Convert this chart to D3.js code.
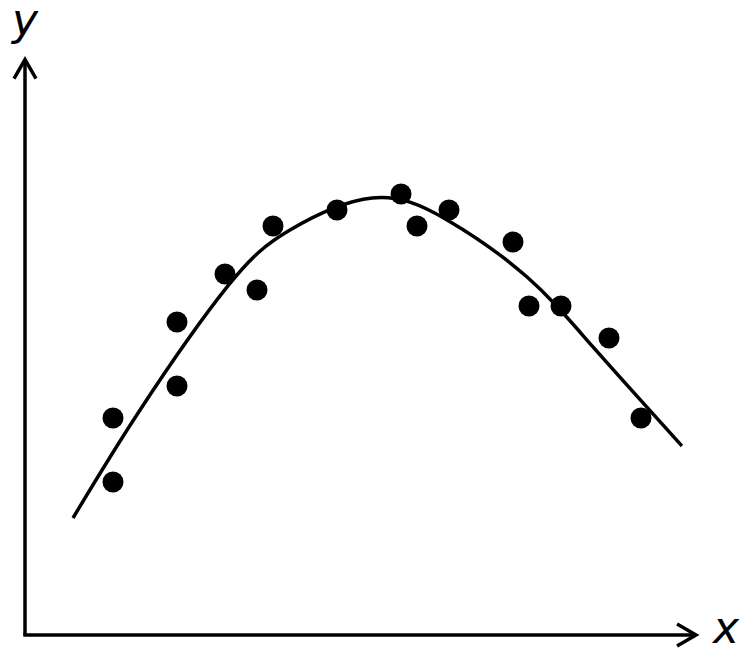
<!DOCTYPE html>
<html>
<head>
<meta charset="utf-8">
<script src="https://cdn.jsdelivr.net/npm/d3@7"></script>
<style>
  body { margin: 0; background: #fff; }
</style>
</head>
<body>
<script>
// scatter points (grid units)
let pointX = [6, 6, 10, 10, 13, 15, 16, 20, 24, 25, 27, 31, 32, 34, 37, 39];
let pointY = [14, 10, 20, 16, 23, 22, 26, 27, 28, 26, 27, 25, 21, 21, 19, 14];

// fitted curve
let curveX = [3.5, 7.69, 13.13, 17.06, 22.19, 26.88, 31.88, 36.0, 41.56];
let curveY = [7.75, 14.5, 22.19, 25.75, 27.75, 26.38, 22.81, 18.44, 12.25];

// axis extents
let axisX = [0.5, 42.44];
let axisY = [0.44, 36.4];

let width = 751, height = 649;

let svg = d3.select("body").append("svg")
  .attr("width", width)
  .attr("height", height);

let x = d3.scaleLinear().domain([0, 42]).range([17, 689]);
let y = d3.scaleLinear().domain([0, 40]).range([642, 2]);

let ink = "#000";
let axisW = 3.5;

// y axis
svg.append("line")
  .attr("x1", x(axisX[0])).attr("y1", y(axisY[0]))
  .attr("x2", x(axisX[0])).attr("y2", y(axisY[1]) + 1)
  .attr("stroke", ink).attr("stroke-width", axisW);

// x axis
svg.append("line")
  .attr("x1", x(axisX[0]) - axisW / 2).attr("y1", y(axisY[0]))
  .attr("x2", x(axisX[1]) - 1).attr("y2", y(axisY[0]))
  .attr("stroke", ink).attr("stroke-width", axisW);

// arrow heads (open V)
let ax = x(axisX[0]), ay = y(axisY[1]);
svg.append("path")
  .attr("d", `M${ax - 11},${ay + 19}L${ax},${ay}L${ax + 11},${ay + 19}`)
  .attr("fill", "none").attr("stroke", ink).attr("stroke-width", axisW)
  .attr("stroke-linejoin", "miter");

let bx = x(axisX[1]), by = y(axisY[0]);
svg.append("path")
  .attr("d", `M${bx - 19},${by - 11}L${bx},${by}L${bx - 19},${by + 11}`)
  .attr("fill", "none").attr("stroke", ink).attr("stroke-width", axisW)
  .attr("stroke-linejoin", "miter");

// axis labels
svg.append("text")
  .attr("x", 12).attr("y", 35)
  .attr("font-family", "DejaVu Sans, sans-serif")
  .attr("font-style", "italic")
  .attr("font-size", 44)
  .attr("fill", ink)
  .text("y");

svg.append("text")
  .attr("x", 713).attr("y", 643)
  .attr("font-family", "DejaVu Sans, sans-serif")
  .attr("font-style", "italic")
  .attr("font-size", 44)
  .attr("fill", ink)
  .text("x");

// curve
let line = d3.line()
  .x(d => x(d[0]))
  .y(d => y(d[1]))
  .curve(d3.curveNatural);

svg.append("path")
  .datum(d3.zip(curveX, curveY))
  .attr("d", line)
  .attr("fill", "none")
  .attr("stroke", ink)
  .attr("stroke-width", 3.5);

// points
svg.selectAll("circle.pt")
  .data(d3.zip(pointX, pointY))
  .enter().append("circle")
  .attr("class", "pt")
  .attr("cx", d => x(d[0]))
  .attr("cy", d => y(d[1]))
  .attr("r", 10.5)
  .attr("fill", ink);
</script>
</body>
</html>
